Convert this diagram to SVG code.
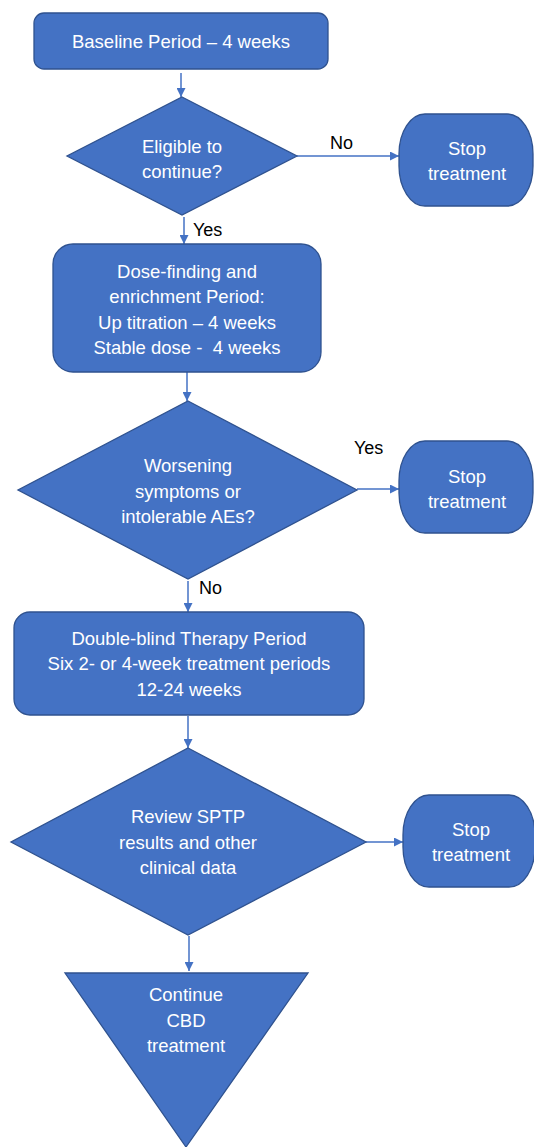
<svg xmlns="http://www.w3.org/2000/svg" width="534" height="1147" viewBox="0 0 534 1147">
<style>
.shape{fill:#4472C4;stroke:#2F528F;stroke-width:1.3}
.t{font-family:"Liberation Sans",Arial,sans-serif;font-size:18.5px;fill:#fff;text-anchor:middle}
.lbl{font-family:"Liberation Sans",Arial,sans-serif;font-size:18px;fill:#000}
.c{stroke:#4472C4;stroke-width:1.5;fill:none;marker-end:url(#ah)}
</style>
<defs>
<marker id="ah" viewBox="0 0 10 10" refX="10" refY="5" markerWidth="6" markerHeight="6" orient="auto" markerUnits="strokeWidth">
<path d="M0,0 L10,5 L0,10 Z" fill="#4472C4"/>
</marker>
</defs>
<rect width="534" height="1147" fill="#fff"/>
<g id="connectors">
<line class="c" x1="181" y1="73" x2="181" y2="97"/>
<line class="c" x1="297" y1="156" x2="399" y2="156"/>
<line class="c" x1="184" y1="217" x2="184" y2="244"/>
<line class="c" x1="187" y1="372" x2="187" y2="401"/>
<line class="c" x1="357" y1="489" x2="399" y2="489"/>
<line class="c" x1="188" y1="581" x2="188" y2="612"/>
<line class="c" x1="188" y1="716" x2="188" y2="748"/>
<line class="c" x1="366" y1="842" x2="403" y2="842"/>
<line class="c" x1="189" y1="936" x2="189" y2="971"/>
<text class="lbl" x="330" y="149">No</text>
<text class="lbl" x="193" y="236">Yes</text>
<text class="lbl" x="354" y="454">Yes</text>
<text class="lbl" x="199" y="594">No</text>
</g>
<g id="baseline">
<rect class="shape" x="34" y="13" width="294" height="56" rx="10"/>
<text class="t" x="181" y="48">Baseline Period – 4 weeks</text>
</g>
<g id="eligible">
<polygon class="shape" points="182,97 297,156 182,215 67,156"/>
<text class="t" x="182" y="153">Eligible to</text>
<text class="t" x="182" y="178">continue?</text>
</g>
<g id="stop1">
<rect class="shape" x="399" y="114" width="134" height="92" rx="26" ry="40"/>
<text class="t" x="467" y="155">Stop</text>
<text class="t" x="467" y="180">treatment</text>
</g>
<g id="dosefinding">
<rect class="shape" x="53" y="244" width="268" height="128" rx="20"/>
<text class="t" x="187" y="278">Dose-finding and</text>
<text class="t" x="187" y="303">enrichment Period:</text>
<text class="t" x="187" y="329">Up titration – 4 weeks</text>
<text class="t" x="187" y="354" xml:space="preserve">Stable dose -  4 weeks</text>
</g>
<g id="worsening">
<polygon class="shape" points="188,401 357,490 188,579 18,490"/>
<text class="t" x="188" y="472">Worsening</text>
<text class="t" x="188" y="498">symptoms or</text>
<text class="t" x="188" y="523">intolerable AEs?</text>
</g>
<g id="stop2">
<rect class="shape" x="399" y="441" width="134" height="92" rx="26" ry="40"/>
<text class="t" x="467" y="483">Stop</text>
<text class="t" x="467" y="508">treatment</text>
</g>
<g id="doubleblind">
<rect class="shape" x="14" y="612" width="350" height="103" rx="16"/>
<text class="t" x="189" y="645">Double-blind Therapy Period</text>
<text class="t" x="189" y="670">Six 2- or 4-week treatment periods</text>
<text class="t" x="189" y="696">12-24 weeks</text>
</g>
<g id="review">
<polygon class="shape" points="188,748 366,842 188,935 11,842"/>
<text class="t" x="188" y="823">Review SPTP</text>
<text class="t" x="188" y="849">results and other</text>
<text class="t" x="188" y="874">clinical data</text>
</g>
<g id="stop3">
<rect class="shape" x="403" y="795" width="132" height="92" rx="26" ry="40"/>
<text class="t" x="471" y="836">Stop</text>
<text class="t" x="471" y="861">treatment</text>
</g>
<g id="continue">
<polygon class="shape" points="65,973 308,973 186,1147"/>
<text class="t" x="186" y="1001">Continue</text>
<text class="t" x="186" y="1027">CBD</text>
<text class="t" x="186" y="1052">treatment</text>
</g>
</svg>
